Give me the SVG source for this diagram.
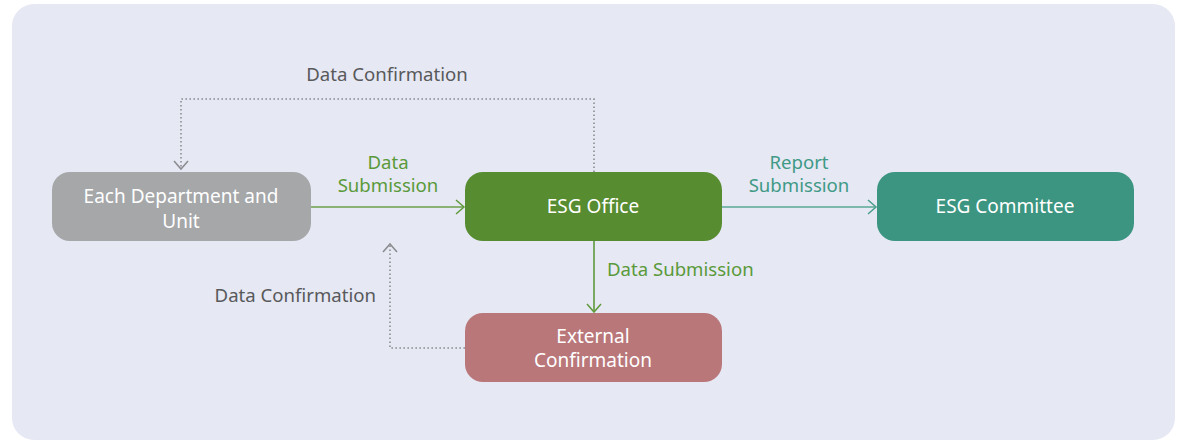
<svg xmlns="http://www.w3.org/2000/svg" width="1180" height="442" viewBox="0 0 1180 442">
<style>
.lbl{font-family:"Noto Sans",Lato,sans-serif;font-size:18.6px}
.nt{font-family:"Noto Sans",Lato,sans-serif;font-size:19px;fill:#ffffff;text-anchor:middle}
.gray{fill:#58595b}
.green{fill:#5a9a3a}
.teal{fill:#3f9a86}
.dot{fill:none;stroke:#8c8d90;stroke-width:1.6;stroke-dasharray:1.6 2.4}
</style>
<defs>
<marker id="ag" markerWidth="12" markerHeight="16" refX="10" refY="8" orient="auto" markerUnits="userSpaceOnUse"><path d="M2,1 L10,8 L2,15" fill="none" stroke="#5f9a3c" stroke-width="1.5"/></marker>
<marker id="at" markerWidth="12" markerHeight="16" refX="10" refY="8" orient="auto" markerUnits="userSpaceOnUse"><path d="M2,1 L10,8 L2,15" fill="none" stroke="#4a9e8a" stroke-width="1.5"/></marker>
<marker id="ay" markerWidth="12" markerHeight="16" refX="10" refY="8" orient="auto" markerUnits="userSpaceOnUse"><path d="M2,1 L10,8 L2,15" fill="none" stroke="#8c8d90" stroke-width="1.6"/></marker>
</defs>
<rect x="0" y="0" width="1180" height="442" fill="#ffffff"/>
<rect x="12" y="4" width="1163" height="436" rx="22" fill="#e6e8f4"/>
<g id="connectors">
<line x1="311" y1="207" x2="464" y2="207" stroke="#6aa04a" stroke-width="1.6" marker-end="url(#ag)"/>
<line x1="722" y1="207" x2="876" y2="207" stroke="#5aa895" stroke-width="1.6" marker-end="url(#at)"/>
<line x1="594" y1="241" x2="594" y2="312" stroke="#5f9a3c" stroke-width="1.6" marker-end="url(#ag)"/>
<polyline class="dot" points="594,172 594,99 181,99 181,169" marker-end="url(#ay)"/>
<polyline class="dot" points="465,348 390,348 390,244" marker-end="url(#ay)"/>
<text class="lbl gray" x="387" y="81" text-anchor="middle">Data Confirmation</text>
<text class="lbl green" x="388" y="169" text-anchor="middle">Data</text>
<text class="lbl green" x="388" y="192" text-anchor="middle">Submission</text>
<text class="lbl teal" x="799" y="169" text-anchor="middle">Report</text>
<text class="lbl teal" x="799" y="192" text-anchor="middle">Submission</text>
<text class="lbl green" x="607" y="276">Data Submission</text>
<text class="lbl gray" x="376" y="302" text-anchor="end">Data Confirmation</text>
</g>
<g id="dept">
<rect x="52" y="172" width="259" height="69" rx="18" fill="#a5a7a9"/>
<text class="nt" x="181" y="203">Each Department and</text>
<text class="nt" x="181" y="228">Unit</text>
</g>
<g id="office">
<rect x="465" y="172" width="257" height="69" rx="18" fill="#578c31"/>
<text class="nt" x="593" y="213">ESG Office</text>
</g>
<g id="committee">
<rect x="877" y="172" width="257" height="69" rx="18" fill="#3b9580"/>
<text class="nt" x="1005" y="213">ESG Committee</text>
</g>
<g id="external">
<rect x="465" y="313" width="257" height="69" rx="18" fill="#b9777a"/>
<text class="nt" x="593" y="343">External</text>
<text class="nt" x="593" y="367">Confirmation</text>
</g>
</svg>
